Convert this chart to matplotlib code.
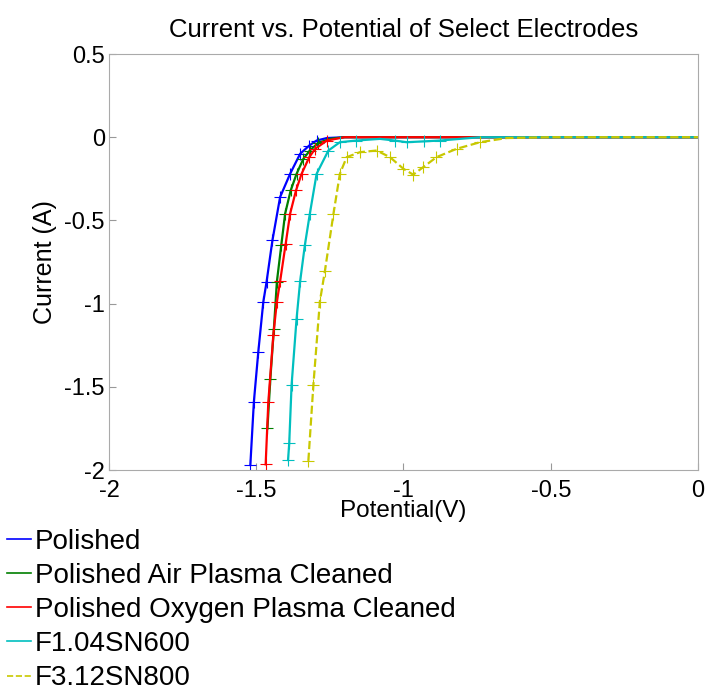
import matplotlib
matplotlib.use("Agg")
import matplotlib.pyplot as plt
import numpy as np

plt.rcParams['font.family'] = ['Liberation Sans', 'DejaVu Sans']

labels = ["Polished", "Polished Air Plasma Cleaned", "Polished Oxygen Plasma Cleaned",
          "F1.04SN600", "F3.12SN800"]
colors = ["#0000ff", "#007f00", "#ff0000", "#00bfbf", "#c8c800"]

# potential (V) and current (A)
v_polished = [-1.52, -1.508, -1.493, -1.476, -1.465, -1.445, -1.419, -1.385, -1.351,
              -1.32, -1.295, -1.26, -1.2, -1.0, -0.8, -0.6, -0.4, -0.2, 0.0]
i_polished = [-1.97, -1.59, -1.29, -0.99, -0.87, -0.62, -0.36, -0.22, -0.10,
              -0.05, -0.02, -0.005, 0.0, 0.0, 0.0, 0.0, 0.0, 0.0, 0.0]

v_air = [-1.462, -1.452, -1.44, -1.43, -1.415, -1.402, -1.383, -1.363, -1.34,
         -1.318, -1.29, -1.25, -1.2, -1.0, -0.8, -0.6, -0.4, -0.2, 0.0]
i_air = [-1.75, -1.45, -1.15, -0.87, -0.65, -0.46, -0.32, -0.22, -0.13,
         -0.08, -0.035, -0.01, 0.0, 0.0, 0.0, 0.0, 0.0, 0.0, 0.0]

v_oxygen = [-1.468, -1.459, -1.442, -1.43, -1.419, -1.40, -1.385, -1.365, -1.346,
            -1.32, -1.30, -1.26, -1.2, -1.0, -0.8, -0.6, -0.4, -0.2, 0.0]
i_oxygen = [-1.966, -1.593, -1.19, -0.99, -0.867, -0.64, -0.46, -0.32, -0.22,
            -0.12, -0.07, -0.02, 0.0, 0.0, 0.0, 0.0, 0.0, 0.0, 0.0]

v_f104 = [-1.392, -1.388, -1.38, -1.363, -1.351, -1.335, -1.318, -1.295, -1.255,
          -1.216, -1.16, -1.08, -1.03, -0.989, -0.93, -0.876, -0.74, -0.6, -0.4, -0.2, 0.0]
i_f104 = [-1.94, -1.84, -1.49, -1.09, -0.867, -0.65, -0.46, -0.22, -0.08,
          -0.03, -0.02, -0.01, -0.02, -0.03, -0.025, -0.02, 0.0, 0.0, 0.0, 0.0, 0.0]

v_f312 = [-1.323, -1.306, -1.284, -1.267, -1.238, -1.216, -1.193, -1.148, -1.091,
          -1.046, -1.0, -0.967, -0.933, -0.888, -0.82, -0.74, -0.65, -0.5, -0.3, -0.1, 0.0]
i_f312 = [-1.945, -1.49, -0.988, -0.806, -0.463, -0.22, -0.12, -0.09, -0.08,
          -0.12, -0.19, -0.225, -0.18, -0.12, -0.07, -0.03, -0.005, 0.0, 0.0, 0.0, 0.0]

series = [(v_polished, i_polished), (v_air, i_air), (v_oxygen, i_oxygen),
          (v_f104, i_f104), (v_f312, i_f312)]

fig = plt.figure(figsize=(7.09, 6.95), dpi=100)
ax = fig.add_axes([0.1537, 0.3237, 0.8308, 0.5986])

handles = []
for (v, i), lab, c in zip(series, labels, colors):
    ls = '--' if lab == "F3.12SN800" else '-'
    # markers only on the steep part, the flat tail shows barely any
    mark = [val < -0.015 for val in i]
    ax.plot(v, i, color=c, linestyle=ls, linewidth=1.6, marker='+',
            markersize=9, markeredgewidth=0.8, markevery=mark)
    h, = ax.plot([], [], color=c, linestyle=ls, linewidth=1.2, label=lab)
    handles.append(h)

ax.set_xlim(-2, 0)
ax.set_ylim(-2, 0.5)
ax.set_xticks([-2, -1.5, -1, -0.5, 0])
ax.set_xticklabels(["-2", "-1.5", "-1", "-0.5", "0"])
ax.set_yticks([-2, -1.5, -1, -0.5, 0, 0.5])
ax.set_yticklabels(["-2", "-1.5", "-1", "-0.5", "0", "0.5"])
ax.tick_params(direction='in', length=5, color='#999999', labelsize=17)
ax.tick_params(axis='x', pad=7)
ax.tick_params(axis='y', pad=3)
for s in ax.spines.values():
    s.set_color('#aaaaaa')

ax.set_title("Current vs. Potential of Select Electrodes", fontsize=18.5, pad=12)
ax.set_xlabel("Potential(V)", fontsize=17.5, labelpad=-1)
ax.set_ylabel("Current (A)", fontsize=18, labelpad=5)

fig.legend(handles=handles, loc='upper left', bbox_to_anchor=(7 / 709, 1 - 529 / 695),
           frameon=False, fontsize=20, handlelength=0.85, handletextpad=0.15,
           labelspacing=0.29, borderpad=0, borderaxespad=0)

fig.savefig("out.png", dpi=100)
